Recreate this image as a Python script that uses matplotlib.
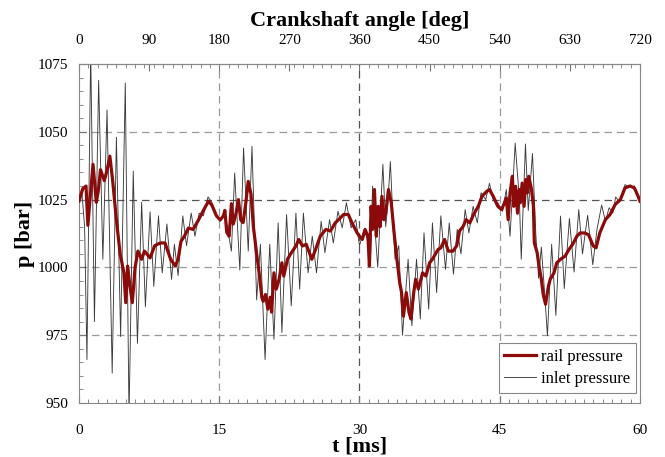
import numpy as np
import matplotlib
matplotlib.use("Agg")
import matplotlib.pyplot as plt
from matplotlib.ticker import MultipleLocator

plt.rcParams['font.family'] = ['Liberation Serif', 'DejaVu Serif']

# rail pressure trace: time [ms], pressure [bar]
rail_t = [0.0, 0.4, 0.75, 0.95, 1.2, 1.5, 1.85, 2.05, 2.3, 2.7, 2.95, 3.3, 3.6, 4.0, 4.4,
          4.8, 5.0, 5.2, 5.45, 5.7, 6.0, 6.3, 6.7, 7.0, 7.6, 8.1, 8.7, 9.2, 9.8, 10.3,
          10.6, 10.9, 11.35, 11.7, 12.2, 12.8, 13.3, 13.85, 14.2, 14.7, 15.1, 15.45, 15.6,
          15.8, 16.05, 16.3, 16.5, 16.8, 17.05, 17.3, 17.55, 17.85, 18.1, 18.4, 18.65, 19.0,
          19.3, 19.55, 19.7, 19.95, 20.2, 20.45, 20.6, 20.85, 21.1, 21.4, 21.7, 21.9, 22.3,
          22.6, 23.2, 23.5, 23.9, 24.3, 24.9, 25.3, 25.8, 26.4, 26.9, 27.4, 27.97, 28.3,
          28.8, 29.2, 29.75, 30.0, 30.3, 30.6, 30.9, 31.06, 31.24, 31.4, 31.6, 31.8, 32.0,
          32.2, 32.4, 32.6, 32.8, 33.1, 33.4, 33.7, 34.0, 34.3, 34.5, 34.7, 35.0, 35.3,
          35.5, 35.8, 36.0, 36.3, 36.75, 37.1, 37.5, 37.8, 38.4, 38.7, 39.1, 39.5, 40.0,
          40.4, 40.7, 41.1, 41.4, 41.8, 42.2, 42.7, 43.1, 43.6, 43.9, 44.3, 44.8, 45.2,
          45.5, 45.7, 45.9, 46.1, 46.35, 46.5, 46.7, 46.9, 47.1, 47.2, 47.4, 47.6, 47.8,
          47.96, 48.1, 48.4, 48.6, 48.7, 49.0, 49.2, 49.45, 49.65, 49.9, 50.2, 50.4, 50.8,
          51.1, 51.5, 52.0, 52.4, 52.8, 53.25, 53.6, 54.1, 54.5, 55.0, 55.3, 55.7, 56.3,
          56.8, 57.35, 57.9, 58.4, 58.95, 59.4, 59.8, 60.0]
rail_p = [1024.5, 1029, 1030, 1015.5, 1026, 1038, 1024, 1028, 1036, 1032, 1035, 1041, 1032,
          1017.5, 1005, 998, 987, 1000.5, 993, 987, 1000, 1006, 1003, 1006, 1003.5, 1008,
          1009, 1009, 1003, 1000.5, 1003, 1009.5, 1012, 1014.5, 1014, 1017.6, 1021, 1024.4,
          1023, 1019, 1017.5, 1019, 1021, 1013, 1011.5, 1023.5, 1016, 1020, 1025, 1017.5,
          1016.5, 1024, 1031.7, 1027, 1015, 1005, 997, 989, 987.5, 990, 984.6, 989, 983.5,
          998, 992, 995.6, 1001.7, 996.8, 1003, 1004.8, 1007.9, 1010.3, 1007.9, 1008.5,
          1003, 1006.6, 1011.5, 1014, 1013.4, 1016.4, 1018.3, 1019.5, 1019.5, 1016.4,
          1012.7, 1011.5, 1010.3, 1014, 1011.5, 1000.5, 1022.5, 1014, 1028.7, 1011.5,
          1022.5, 1015, 1026.2, 1017.6, 1020, 1028.7, 1023.8, 1012.7, 1003, 994.4, 990.7,
          982, 990.7, 983.3, 981, 990.7, 995.6, 992, 998, 996.8, 1001.7, 1003, 1006.6,
          1007.2, 1010.3, 1006, 1006, 1008, 1013.4, 1015.2, 1017.6, 1016.4, 1019.5, 1022.5,
          1026.2, 1028, 1028.7, 1026.2, 1022.5, 1021.3, 1023.8, 1025.6, 1017.6, 1027.5,
          1033.6, 1022.5, 1029.9, 1020, 1028.7, 1023.8, 1031.1, 1022.5, 1032.4, 1027.5,
          1033.6, 1028.7, 1022.5, 1009, 1005.4, 1000.5, 995.6, 990, 986.4, 993, 995.6, 998,
          1001.7, 1003, 1004.2, 1006.6, 1008.5, 1011.5, 1012.7, 1012.7, 1012, 1007.9,
          1007.2, 1012.7, 1017.6, 1019.5, 1023.2, 1025, 1029.3, 1030, 1029.3, 1026.2, 1024.4]

# inlet pressure trace: time [ms], pressure [bar]
inlet_t = [0.0, 0.3, 0.6, 0.85, 1.25, 1.65, 2.1, 2.55, 3.0, 3.55, 4.0, 4.45, 4.95, 5.35,
           5.8, 6.25, 6.7, 7.1, 7.6, 8.0, 8.5, 8.9, 9.4, 9.9, 10.2, 10.6, 11.1, 11.5, 12.0,
           12.4, 12.85, 13.3, 13.8, 14.2, 14.7, 15.1, 15.55, 15.9, 16.3, 16.65, 17.2, 17.6,
           18.1, 18.5, 19.0, 19.4, 19.9, 20.4, 20.85, 21.3, 21.7, 22.2, 22.7, 23.2, 23.6,
           24.0, 24.5, 24.95, 25.4, 25.9, 26.3, 26.8, 27.2, 27.7, 28.15, 28.6, 29.1, 29.6,
           30.0, 30.5, 30.9, 31.15, 31.4, 31.7, 31.95, 32.5, 32.8, 33.0, 33.3, 33.55, 33.8,
           34.2, 34.6, 35.2, 35.6, 36.1, 36.5, 36.9, 37.4, 37.8, 38.25, 38.7, 39.2, 39.6,
           40.05, 40.45, 40.85, 41.3, 41.7, 42.15, 42.6, 43.0, 43.5, 43.9, 44.3, 44.8, 45.3,
           45.7, 46.1, 46.65, 47.1, 47.3, 47.75, 48.05, 48.5, 48.85, 49.15, 49.45, 49.85,
           50.1, 50.55, 51.0, 51.5, 51.9, 52.45, 52.95, 53.45, 53.85, 54.4, 54.95, 55.4,
           55.9, 56.3, 56.7, 57.1, 57.4, 57.8, 58.4, 59.0, 59.4, 60.0]
inlet_p = [1025, 1028, 1015, 966, 1080, 980, 1069, 1003, 1058, 961, 1048, 974.5, 1068, 945,
           1035.5, 972, 1024, 985.5, 1020.5, 993, 1019, 998, 1016, 995.6, 1008.5, 997, 1019,
           1008, 1020, 1011.5, 1020, 1019, 1026, 1024, 1019.5, 1017, 1021, 1014, 1006, 1034.8,
           999, 1044, 1006, 1044.6, 988, 1008.5, 966, 1008.5, 973.5, 1016.4, 976, 1019.5,
           985.8, 1020, 992, 1020, 998, 1011.5, 998, 1017, 1005.4, 1017.6, 1009, 1020.7,
           1014.6, 1023.8, 1014.6, 1017.6, 1008, 1014, 1009.7, 1000.5, 1030, 1012, 1000, 1038,
           1015, 1022, 1039, 1020, 1003, 1008, 975, 1003, 978.5, 1003, 981, 1012.7, 984.6,
           1016.4, 990.7, 1019, 999.3, 1016.4, 997.5, 1014, 1005, 1021.3, 1012.7, 1022.5,
           1016.4, 1027.5, 1025, 1031, 1025, 1023.8, 1020.7, 1028.7, 1011.5, 1045.8, 1025,
           1003, 1045.5, 1021, 1042, 1012.7, 996, 1007.5, 988, 974.8, 1008.5, 982.3, 1018.9,
           992.2, 1018, 998.3, 1021.3, 1005, 1019.2, 1001, 1014, 1023, 1017, 1022, 1020, 1026,
           1024, 1030.5, 1029.5, 1030, 1024.4]

t_ticks = [0, 15, 30, 45, 60]
p_ticks = [950, 975, 1000, 1025, 1050, 1075]
deg_ticks = [0, 90, 180, 270, 360, 450, 540, 630, 720]

fig = plt.figure(figsize=(6.65, 4.57), dpi=100)
ax = fig.add_axes([0.1188, 0.1182, 0.8436, 0.7418])

# dashed grid, with the 1025 bar and 30 ms lines drawn darker
for tv in t_ticks[1:-1]:
    c = '#555555' if tv == 30 else '#9a9a9a'
    ax.axvline(tv, color=c, lw=0.9, ls=(0, (6, 4)), zorder=1)
for pv in p_ticks[1:-1]:
    c = '#555555' if pv == 1025 else '#9a9a9a'
    ax.axhline(pv, color=c, lw=0.9, ls=(0, (6, 4)), zorder=1)

ax.plot(inlet_t, inlet_p, color='#3c3c3c', lw=0.65, zorder=2, label='inlet pressure')
ax.plot(rail_t, rail_p, color='#8b0a0a', lw=2.3, zorder=3, label='rail pressure')

ax.set_xlim(0, 60)
ax.set_ylim(950, 1075)
ax.set_xticks(t_ticks)
ax.set_yticks(p_ticks)
ax.xaxis.set_minor_locator(MultipleLocator(1))
ax.yaxis.set_minor_locator(MultipleLocator(5))
ax.tick_params(which='both', direction='in', labelsize=11, colors='#777777',
               labelcolor='black', top=False, right=False)
ax.tick_params(axis='x', which='major', length=5, pad=15)
ax.tick_params(axis='y', which='major', length=5, pad=8)
ax.tick_params(which='minor', length=3)
for s in ax.spines.values():
    s.set_color('#888888')

ax.set_xlabel('t [ms]', fontsize=16, fontweight='bold', labelpad=0)
ax.set_ylabel('p [bar]', fontsize=16, fontweight='bold', labelpad=2)

top = ax.secondary_xaxis('top', functions=(lambda t: t * 12.0, lambda d: d / 12.0))
top.set_xticks(deg_ticks)
top.xaxis.set_minor_locator(MultipleLocator(12))
top.tick_params(which='both', direction='in', labelsize=11, colors='#777777',
                labelcolor='black')
top.tick_params(which='major', length=5, pad=12)
top.tick_params(which='minor', length=3)
top.spines['top'].set_color('#888888')
top.set_xlabel('Crankshaft angle [deg]', fontsize=16, fontweight='bold', labelpad=6)

h, l = ax.get_legend_handles_labels()
leg = ax.legend(h[::-1], l[::-1], loc='lower right', bbox_to_anchor=(0.993, 0.03),
                borderaxespad=0, fontsize=12, fancybox=False, framealpha=1,
                edgecolor='#888888', handlelength=1.9, borderpad=0.35,
                labelspacing=0.35, handletextpad=0.3)
leg.get_frame().set_linewidth(0.8)

fig.savefig('out.png', dpi=100)
